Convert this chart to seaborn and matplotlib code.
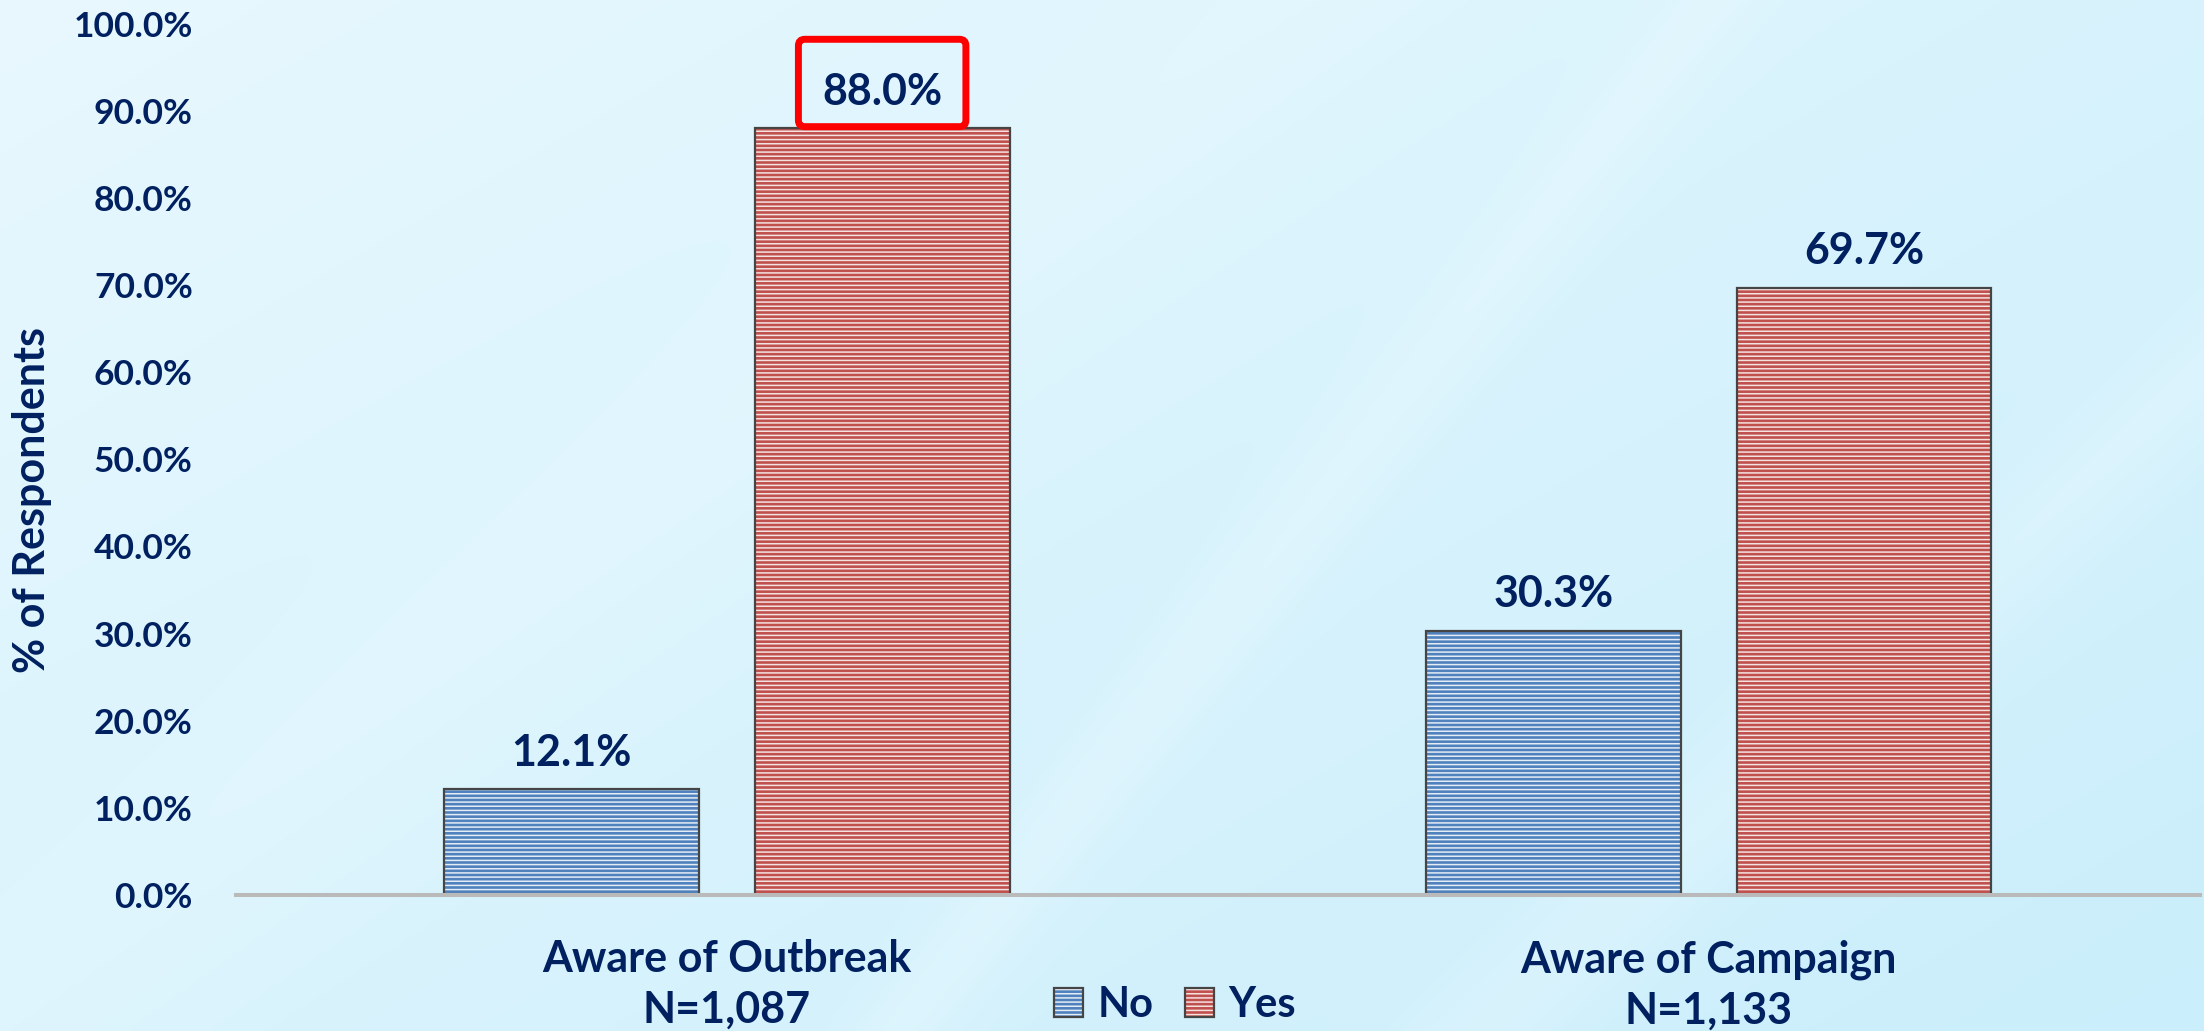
import numpy as np
import pandas as pd
import matplotlib
matplotlib.use('Agg')
import matplotlib.pyplot as plt
from matplotlib.patches import Patch, Rectangle, BoxStyle
from matplotlib.ticker import FuncFormatter
import seaborn as sns

# chart data
categories = ['Aware of Outbreak\nN=1,087', 'Aware of Campaign\nN=1,133']
answers = ['No', 'Yes']
no_pct = [12.1, 30.3]
yes_pct = [88.0, 69.7]
y_ticks = [0, 10, 20, 30, 40, 50, 60, 70, 80, 90, 100]

df = pd.DataFrame({
    'category': categories * 2,
    'answer': ['No'] * len(categories) + ['Yes'] * len(categories),
    'pct': no_pct + yes_pct,
})

navy = '#002060'
palette = {'No': '#4f81bd', 'Yes': '#c0504d'}
stripe = {'No': '#e4ecf6', 'Yes': '#f4e2e1'}
edge = '#454545'

sns.set_theme(style='white')
plt.rcParams['font.family'] = ['Lato', 'DejaVu Sans']
plt.rcParams['hatch.linewidth'] = 1.1


class RaisedRound(BoxStyle.Round):
    # rounded box nudged upward, like the highlight box around 88.0%
    def __call__(self, x0, y0, width, height, mutation_size):
        return super().__call__(x0, y0 + 0.2 * mutation_size, width, height, mutation_size)


fig = plt.figure(figsize=(22.04, 10.31), dpi=100)

# light blue background with soft diagonal streaks
h, w = 1031, 2204
yy, xx = np.mgrid[0:h, 0:w].astype(float)


def band(x0, y0, x1, y1, width):
    dx, dy = x1 - x0, y1 - y0
    d = np.abs((xx - x0) * dy - (yy - y0) * dx) / np.hypot(dx, dy)
    return np.exp(-(d / width) ** 2)


t = np.clip(0.55 * xx / w + 0.45 * yy / h, 0, 1)[..., None]
light = np.array([232, 248, 254]) / 255
dark = np.array([202, 238, 251]) / 255
img = light * (1 - t) + dark * t
a = (0.35 * band(1100, 775, 1713, 0, 45) + 0.3 * band(1452, 1056, 2204, 373, 60)
     + 0.25 * band(0, 1000, 1300, 0, 120))[..., None]
img = img * (1 - a) + np.array([0.93, 0.98, 1.0]) * a
bg = fig.add_axes([0, 0, 1, 1], zorder=0)
bg.imshow(img, aspect='auto', extent=(0, 1, 0, 1))
bg.set_axis_off()

ax = fig.add_axes([0.107, 0.132, 0.891, 0.845], zorder=1)
ax.patch.set_alpha(0)

sns.barplot(data=df, x='category', y='pct', hue='answer', hue_order=answers,
            palette=palette, saturation=1, width=0.633, gap=0.18,
            errorbar=None, legend=False, ax=ax)

for container, ans in zip(ax.containers, answers):
    for p in container:
        p.set_hatch('----')
        p.set_edgecolor(stripe[ans])
        p.set_linewidth(0)
        ax.add_patch(Rectangle(p.get_xy(), p.get_width(), p.get_height(),
                               fill=False, ec=edge, lw=1.6, zorder=p.get_zorder() + 0.1))

label_font = dict(fontsize=31, fontweight='bold', color=navy)
for container in ax.containers:
    labels = ax.bar_label(container, fmt='%.1f%%', padding=12, **label_font)
    for lbl, val in zip(labels, container.datavalues):
        if val == max(yes_pct):
            lbl.set_bbox(dict(boxstyle=RaisedRound(pad=0.55, rounding_size=0.15),
                              fc='none', ec='#ff0000', lw=5))

ax.set_ylim(0, 100)
ax.set_xlim(-0.5, 1.5)
ax.set_yticks(y_ticks)
ax.yaxis.set_major_formatter(FuncFormatter(lambda v, _: f'{v:.1f}%'))
ax.tick_params(axis='y', length=0, pad=31, labelsize=25.5, labelcolor=navy)
ax.tick_params(axis='x', length=0, pad=32, labelsize=31, labelcolor=navy)
for lbl in ax.get_yticklabels() + ax.get_xticklabels():
    lbl.set_fontweight('bold')
for lbl in ax.get_xticklabels():
    lbl.set_linespacing(1.32)

ax.set_xlabel('')
ax.set_ylabel('% of Respondents', fontsize=31, fontweight='bold', color=navy)
ax.yaxis.set_label_coords(-0.0937, 0.4535)

for side in ['left', 'top', 'right']:
    ax.spines[side].set_visible(False)
ax.spines['bottom'].set_color('#bababa')
ax.spines['bottom'].set_linewidth(2.9)
ax.grid(False)

handles = [(Patch(facecolor=palette[ans], edgecolor=stripe[ans], hatch='----', lw=0),
            Patch(fill=False, edgecolor=edge, lw=1.6)) for ans in answers]
fig.legend(handles, answers, loc='center', bbox_to_anchor=(0.533, 0.025), ncol=2,
           frameon=False, handlelength=0.7, handleheight=0.7, handletextpad=0.35,
           columnspacing=0.75, labelcolor=navy,
           prop={'family': ['Lato', 'DejaVu Sans'], 'weight': 'bold', 'size': 30})

fig.savefig('out.png', dpi=100, facecolor=fig.get_facecolor())
